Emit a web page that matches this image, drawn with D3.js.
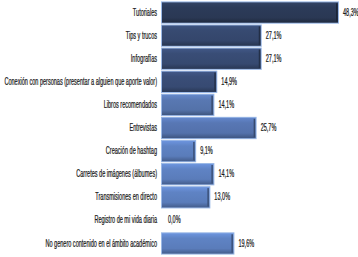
<!DOCTYPE html>
<html><head><meta charset="utf-8">
<script src="https://cdn.jsdelivr.net/npm/d3@7"></script>
<style>html,body{margin:0;padding:0;background:#fff;overflow:hidden}</style>
</head><body>
<svg id="c" width="358" height="257"></svg>
<script>
const categories = ["Tutoriales","Tips y trucos","Infografías","Conexión con personas (presentar a alguien que aporte valor)","Libros recomendados","Entrevistas","Creación de hashtag","Carretes de imágenes (álbumes)","Transmisiones en directo","Registro de mi vida diaria","No genero contenido en el ámbito académico"];
const values = [48.3,27.1,27.1,14.9,14.1,25.7,9.1,14.1,13.0,0.0,19.6];
const valueLabels = ["48,3%","27,1%","27,1%","14,9%","14,1%","25,7%","9,1%","14,1%","13,0%","0,0%","19,6%"];
const palette = ["#2a3854","#34466b","#364970","#374a72","#5472a9","#5371ab","#5a7cba","#5a7cba","#5a7cba","#5a7cba","#5a7cba"];

const svg = d3.select("#c");
const font = "'Liberation Sans', Arial, sans-serif";
const sx = 0.555;
const x0 = 162;
const x = d3.scaleLinear().domain([0,48.3]).range([x0, x0+176]);
const y = d3.scaleBand().domain(categories).range([1, 255]).paddingInner(0.12).paddingOuter(0.06);
const idx = d => categories.indexOf(d);

const defs = svg.append("defs");
palette.forEach((c,i)=>{
  const g = defs.append("linearGradient").attr("id","g"+i).attr("x1",0).attr("x2",0).attr("y1",0).attr("y2",1);
  const base = d3.color(c);
  g.append("stop").attr("offset","0%").attr("stop-color", base.brighter(0.5));
  g.append("stop").attr("offset","25%").attr("stop-color", base.brighter(0.15));
  g.append("stop").attr("offset","75%").attr("stop-color", base);
  g.append("stop").attr("offset","100%").attr("stop-color", base.darker(0.8));
});

const rows = svg.selectAll("g.row").data(categories).join("g").attr("class","row");
const withBar = rows.filter(d=>values[idx(d)]>0);

withBar.append("rect")
  .attr("x", x(0)-1).attr("y", d=>y(d)-1)
  .attr("width", d=>x(values[idx(d)])-x(0)+2).attr("height", y.bandwidth()+2)
  .attr("fill","#9ab8e6");
withBar.append("rect")
  .attr("x", x(0)).attr("y", d=>y(d))
  .attr("width", d=>x(values[idx(d)])-x(0)).attr("height", y.bandwidth())
  .attr("fill", d=>"url(#g"+idx(d)+")");
withBar.append("rect")
  .attr("x", d=>x(values[idx(d)])-2).attr("y", d=>y(d)+1)
  .attr("width", 1.5).attr("height", y.bandwidth()-2)
  .attr("fill", d=>d3.color(palette[idx(d)]).darker(1.2));

rows.append("text")
  .attr("transform", d=>`translate(${x0-5},${y(d)+y.bandwidth()/2}) scale(${sx},1)`)
  .attr("text-anchor","end").attr("dominant-baseline","central")
  .attr("font-family", font).attr("font-size", 10).attr("fill","#1a1a1a")
  .attr("stroke","#1a1a1a").attr("stroke-width",0.25)
  .text(d=>d);

rows.append("text")
  .attr("transform", d=>`translate(${x(values[idx(d)])+(values[idx(d)]>0?5:6)},${y(d)+y.bandwidth()/2}) scale(${sx},1)`)
  .attr("dominant-baseline","central")
  .attr("font-family", font).attr("font-size", 10).attr("fill","#1a1a1a")
  .attr("stroke","#1a1a1a").attr("stroke-width",0.25)
  .text(d=>valueLabels[idx(d)]);
</script>
</body></html>
